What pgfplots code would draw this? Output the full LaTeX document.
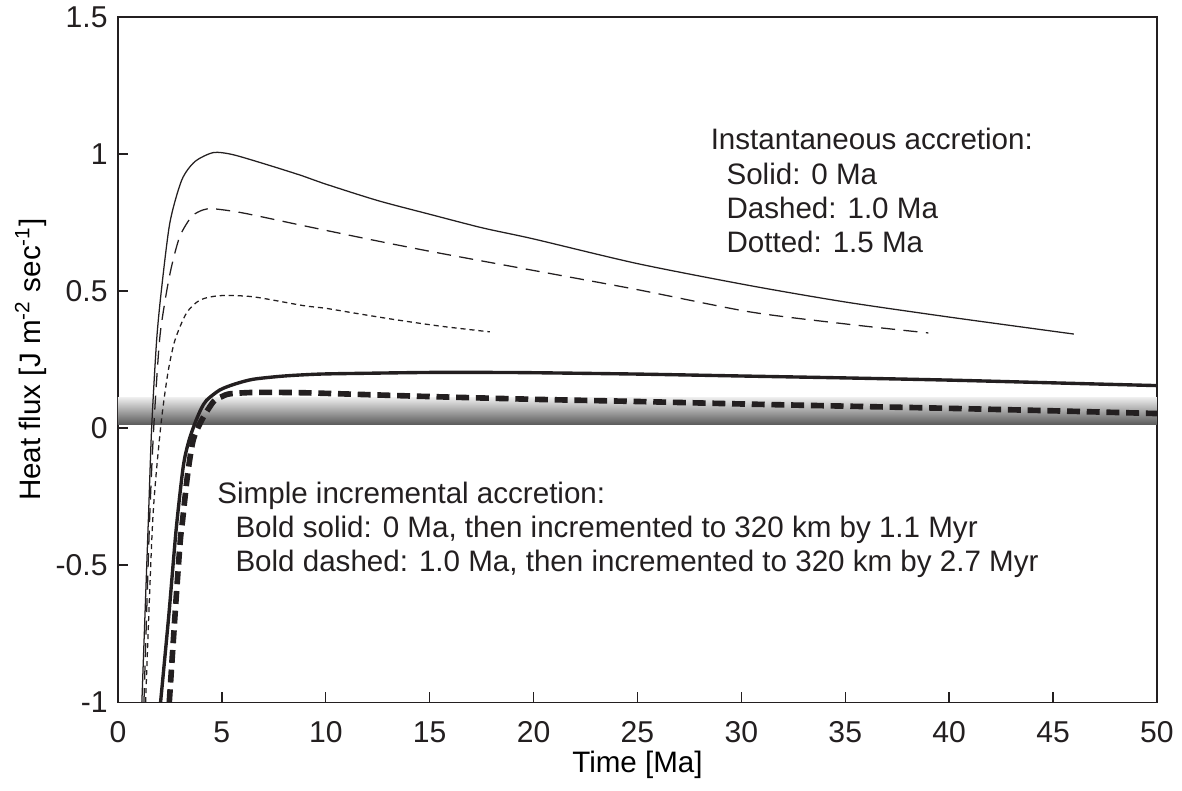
\documentclass[border=0pt]{standalone}
\usepackage{fontspec}
\setmainfont{Liberation Sans}
\usepackage{pgfplots}
\pgfplotsset{compat=1.18}
\usetikzlibrary{calc}
\definecolor{ink}{HTML}{231F20}

\begin{document}
\fontsize{10.5}{12.5}\selectfont
\begin{tikzpicture}
\begin{axis}[
  name=ax,
  scale only axis, width=369pt, height=243.4pt,
  xmin=0, xmax=50, ymin=-1, ymax=1.5,
  xtick={0,5,...,50},
  ytick={-1,-0.5,0,0.5,1,1.5},
  yticklabels={-1,-0.5,0,0.5,1,1.5},
  tick align=inside, xtick pos=bottom, ytick pos=left,
  major tick length=3.5pt,
  axis line style={ink, line width=0.5pt},
  tick style={ink, line width=0.5pt},
  ticklabel style={font=\fontsize{10.7}{12.5}\selectfont, text=ink},
  xticklabel style={yshift=-3.2pt},
  /pgf/number format/assume math mode=true,
  xlabel={Time [Ma]},
  ylabel={Heat flux [J m\textsuperscript{-2} sec\textsuperscript{-1}]},
  label style={font=\fontsize{10.3}{12.5}\selectfont, text=ink},
  every axis x label/.style={at={(axis description cs:0.5,-0.092)}, anchor=center},
  every axis y label/.style={at={(axis description cs:-0.084,0.5)}, rotate=90, anchor=center},
]
% grey band around zero
\addplot[draw=none, top color=black!8, bottom color=black!65, forget plot]
  coordinates {(0,0.012) (50,0.012) (50,0.11) (0,0.11)} -- cycle;

% instantaneous accretion, 0 Ma
\addplot[ink, line width=0.45pt, smooth, tension=0.45] coordinates {
  (1.15,-1) (1.46,-0.34) (1.62,0) (1.86,0.32) (2.1,0.51) (2.5,0.75) (3.07,0.905)
  (3.7,0.972) (4.59,1.005) (5.5,0.998) (7,0.965) (8.76,0.923) (10,0.89) (12.5,0.83)
  (15,0.78) (17.56,0.73) (20,0.69) (25,0.60) (30.4,0.52) (35,0.46) (40,0.405) (46,0.343)};
% instantaneous accretion, 1.0 Ma
\addplot[ink, line width=0.45pt, dash pattern=on 5pt off 3pt, smooth, tension=0.45] coordinates {
  (1.25,-1) (1.52,-0.34) (1.72,0) (2.0,0.32) (2.3,0.48) (2.58,0.59) (2.98,0.70)
  (3.55,0.772) (4.1,0.796) (4.6,0.80) (6,0.785) (8.76,0.741) (12,0.69) (15,0.645)
  (20,0.575) (25,0.505) (30.4,0.424) (35,0.38) (39,0.347)};
% instantaneous accretion, 1.5 Ma
\addplot[ink, line width=0.45pt, dash pattern=on 1.8pt off 1.4pt, smooth, tension=0.45] coordinates {
  (1.33,-1) (1.67,-0.34) (2.05,0) (2.4,0.2) (2.74,0.32) (3.3,0.42) (3.95,0.467)
  (4.9,0.483) (6.5,0.479) (8.9,0.447) (10,0.437) (11.5,0.418) (13.3,0.396)
  (15.5,0.372) (17.9,0.351)};
% incremental, 0 Ma
\addplot[ink, line width=1.2pt, smooth, tension=0.45] coordinates {
  (2.05,-1) (2.45,-0.68) (2.8,-0.37) (3.14,-0.141) (3.4,-0.05) (3.7,0.017)
  (4.0,0.07) (4.27,0.102) (4.9,0.139) (5.6,0.16) (6.5,0.178) (8,0.19) (9.72,0.197)
  (12,0.2) (15,0.203) (18,0.203) (20,0.202) (25,0.197) (30,0.19) (35,0.183)
  (40,0.175) (45,0.165) (50,0.155)};
% incremental, 1.0 Ma
\addplot[ink, line width=2pt, dash pattern=on 4.6pt off 2.4pt, smooth, tension=0.45] coordinates {
  (2.47,-1) (2.8,-0.62) (3.0,-0.41) (3.11,-0.336) (3.35,-0.17) (3.62,-0.044)
  (4.03,0.029) (4.59,0.096) (5.0,0.115) (5.39,0.125) (6.5,0.13) (8,0.13) (9.4,0.128)
  (12,0.122) (15,0.115) (20,0.105) (25,0.097) (30,0.088) (35,0.08) (40,0.072)
  (45,0.063) (50,0.053)};

\begin{scope}[every node/.style={anchor=base west, inner sep=0pt, text=ink}]
\node at (axis cs:28.5,1.015) {Instantaneous accretion:};
\node at (axis cs:29.26,0.89) {Solid: 0 Ma};
\node at (axis cs:29.26,0.766) {Dashed: 1.0 Ma};
\node at (axis cs:29.26,0.642) {Dotted: 1.5 Ma};
\node at (axis cs:4.76,-0.274) {Simple incremental accretion:};
\node at (axis cs:5.63,-0.398) {Bold solid: 0 Ma, then incremented to 320 km by 1.1 Myr};
\node at (axis cs:5.63,-0.522) {Bold dashed: 1.0 Ma, then incremented to 320 km by 2.7 Myr};
\end{scope}
\end{axis}
\pgfresetboundingbox
\path ($(ax.south west)+(-41.9pt,-31.3pt)$) rectangle ($(ax.north east)+(8.9pt,6.0pt)$);
\end{tikzpicture}
\end{document}
